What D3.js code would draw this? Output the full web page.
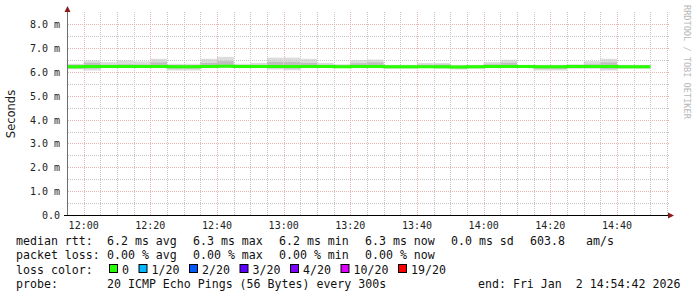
<!DOCTYPE html>
<meta charset="utf-8">
<style>
    body {
        margin: 0;
        overflow: hidden;
        background: #fff;
    }

    text {
        font-family: "DejaVu Sans Mono", monospace;
    }
</style>
<div id="container"></div>
<script src="https://cdn.jsdelivr.net/npm/d3@7"></script>
<script>
    // step start times (300s steps)
    const stepTimes = ["11:55", "12:00", "12:05", "12:10", "12:15", "12:20", "12:25", "12:30", "12:35", "12:40",
        "12:45", "12:50", "12:55", "13:00", "13:05", "13:10", "13:15", "13:20", "13:25", "13:30",
        "13:35", "13:40", "13:45", "13:50", "13:55", "14:00", "14:05", "14:10", "14:15", "14:20",
        "14:25", "14:30", "14:35", "14:40", "14:45"];

    // median rtt in ms
    const medianRtt = [6.22, 6.23, 6.23, 6.23, 6.23, 6.23, 6.22, 6.22, 6.23, 6.24,
        6.23, 6.23, 6.23, 6.23, 6.23, 6.23, 6.22, 6.23, 6.23, 6.22,
        6.22, 6.22, 6.22, 6.21, 6.22, 6.23, 6.23, 6.23, 6.22, 6.22,
        6.23, 6.23, 6.23, 6.22, 6.22];

    // smoke: max, upper inner, lower inner, min (ms)
    const smokeMax = [6.34, 6.48, 6.41, 6.48, 6.44, 6.55, 6.34, 6.34, 6.55, 6.63,
        6.34, 6.38, 6.60, 6.60, 6.55, 6.38, 6.32, 6.49, 6.52, 6.30,
        6.30, 6.37, 6.37, 6.30, 6.30, 6.41, 6.51, 6.30, 6.30, 6.30,
        6.32, 6.45, 6.55, 6.30, 6.30];
    const smokeHi = [6.30, 6.38, 6.30, 6.32, 6.31, 6.40, 6.28, 6.28, 6.38, 6.45,
        6.29, 6.30, 6.42, 6.42, 6.38, 6.30, 6.28, 6.36, 6.40, 6.27,
        6.27, 6.30, 6.31, 6.26, 6.27, 6.32, 6.38, 6.27, 6.27, 6.27,
        6.28, 6.32, 6.40, 6.27, 6.27];
    const smokeLo = [6.14, 6.14, 6.19, 6.19, 6.19, 6.19, 6.14, 6.14, 6.19, 6.20,
        6.19, 6.19, 6.16, 6.14, 6.19, 6.19, 6.19, 6.19, 6.19, 6.17,
        6.17, 6.19, 6.17, 6.14, 6.17, 6.19, 6.19, 6.19, 6.13, 6.13,
        6.17, 6.17, 6.13, 6.17, 6.17];
    const smokeMin = [6.11, 6.06, 6.16, 6.16, 6.16, 6.16, 6.06, 6.06, 6.16, 6.18,
        6.16, 6.16, 6.10, 6.07, 6.16, 6.16, 6.16, 6.16, 6.16, 6.13,
        6.13, 6.16, 6.13, 6.10, 6.13, 6.16, 6.16, 6.16, 6.06, 6.06,
        6.13, 6.13, 6.06, 6.13, 6.13];

    const lossLabels = ["0", "1/20", "2/20", "3/20", "4/20", "10/20", "19/20"];
    const lossColors = ["#26ff00", "#00b8ff", "#0059ff", "#5e00ff", "#7e00ff", "#dd00ff", "#ff0000"];

    const legendRows = [
        ["median rtt:", "6.2 ms avg", "6.3 ms max", "6.2 ms min", "6.3 ms now", "0.0 ms sd", "603.8", "am/s"],
        ["packet loss:", "0.00 % avg", "0.00 % max", "0.00 % min", "0.00 % now"],
        ["loss color:"],
        ["probe:", "20 ICMP Echo Pings (56 Bytes) every 300s", "end: Fri Jan  2 14:54:42 2026"]
    ];

    const width = 697, height = 297;
    const parse = d3.timeParse("%H:%M");
    const times = stepTimes.map(parse);
    const stepMs = 5 * 60 * 1000;

    const x = d3.scaleTime()
        .domain([parse("11:55"), parse("14:55")])
        .range([67, 667]);
    const y = d3.scaleLinear()
        .domain([0, 8.47])
        .range([215, 13]);

    const svg = d3.select("#container").append("svg")
        .attr("width", width)
        .attr("height", height);

    // smoke
    const smoke = svg.append("g");
    times.forEach((t, i) => {
        const x0 = x(t), x1 = x(new Date(+t + stepMs));
        smoke.append("rect")
            .attr("x", x0).attr("width", x1 - x0)
            .attr("y", y(smokeMax[i])).attr("height", y(smokeMin[i]) - y(smokeMax[i]))
            .attr("fill", "#dcdcdc");
        smoke.append("rect")
            .attr("x", x0).attr("width", x1 - x0)
            .attr("y", y(smokeHi[i])).attr("height", y(smokeLo[i]) - y(smokeHi[i]))
            .attr("fill", "#bfbfbf");
    });

    // grid
    const grid = svg.append("g").attr("stroke-dasharray", "1,1").attr("stroke-width", 1);
    const minorY = d3.range(0.5, 8.5, 1);
    const majorY = d3.range(1, 9, 1);
    const minorX = x.ticks(d3.timeMinute.every(5)).filter(t => t.getMinutes() % 20 !== 0 && x(t) > 68);
    const majorX = x.ticks(d3.timeMinute.every(20));
    minorY.forEach(v => {
        grid.append("line")
            .attr("x1", 68).attr("x2", 669)
            .attr("y1", Math.round(y(v)) + 0.5).attr("y2", Math.round(y(v)) + 0.5)
            .attr("stroke", "#c6c6c6");
    });
    minorX.forEach(t => {
        grid.append("line")
            .attr("x1", Math.round(x(t)) + 0.5).attr("x2", Math.round(x(t)) + 0.5)
            .attr("y1", 215).attr("y2", 12)
            .attr("stroke", "#c6c6c6");
    });
    majorY.forEach(v => {
        grid.append("line")
            .attr("x1", 68).attr("x2", 669)
            .attr("y1", Math.round(y(v)) + 0.5).attr("y2", Math.round(y(v)) + 0.5)
            .attr("stroke", "#e9b4b4");
    });
    majorX.forEach(t => {
        grid.append("line")
            .attr("x1", Math.round(x(t)) + 0.5).attr("x2", Math.round(x(t)) + 0.5)
            .attr("y1", 215).attr("y2", 12)
            .attr("stroke", "#e9b4b4");
    });

    // median line
    const medPts = times.map((t, i) => [t, medianRtt[i]]);
    medPts.push([new Date(+times[times.length - 1] + stepMs), medianRtt[medianRtt.length - 1]]);
    svg.append("path")
        .datum(medPts)
        .attr("fill", "none")
        .attr("stroke", lossColors[0])
        .attr("stroke-width", 3)
        .attr("d", d3.line().x(d => x(d[0])).y(d => y(d[1])).curve(d3.curveStepAfter));

    // axes
    svg.append("line")
        .attr("x1", 67.5).attr("x2", 67.5).attr("y1", 216).attr("y2", 10)
        .attr("stroke", "#707070");
    svg.append("line")
        .attr("x1", 64).attr("x2", 669).attr("y1", 215.5).attr("y2", 215.5)
        .attr("stroke", "#000");
    svg.append("path").attr("d", "M64.5,12 L70.5,12 L67.5,6 Z").attr("fill", "#8b1a1a");
    svg.append("path").attr("d", "M668,212.5 L668,218.5 L674,215.5 Z").attr("fill", "#8b1a1a");

    // y tick labels
    const yLabels = svg.append("g").attr("font-size", 10).attr("fill", "#222").attr("text-anchor", "end");
    [0].concat(majorY.filter(v => v <= 8)).forEach(v => {
        yLabels.append("text")
            .attr("x", 60).attr("y", y(v) + 4)
            .text(v === 0 ? "0.0" : d3.format(".1f")(v) + " m");
    });

    // x tick labels
    const xLabels = svg.append("g").attr("font-size", 10).attr("fill", "#222").attr("text-anchor", "middle");
    majorX.forEach(t => {
        xLabels.append("text")
            .attr("x", x(t)).attr("y", 228.5)
            .text(d3.timeFormat("%H:%M")(t));
    });

    // axis title
    svg.append("text")
        .attr("transform", "translate(15,114) rotate(-90)")
        .attr("text-anchor", "middle")
        .style("font-family", "'DejaVu Sans', sans-serif")
        .attr("font-size", 11.5)
        .attr("fill", "#222")
        .text("Seconds");

    // watermark
    svg.append("text")
        .attr("transform", "translate(684,5) rotate(90)")
        .attr("font-size", 8.6)
        .attr("fill", "#b8b8b8")
        .text("RRDTOOL / TOBI OETIKER");

    // legend
    const legX = [16, 107, 193, 279, 365, 451, 530, 586];
    const rowY = [245, 259, 273.5, 287.5];
    const legend = svg.append("g").attr("font-size", 11.6).attr("fill", "#111");
    legendRows.forEach((row, r) => {
        row.forEach((s, c) => {
            let xx = legX[c];
            if (r === 3 && c === 2) xx = 478;
            legend.append("text")
                .attr("x", xx).attr("y", rowY[r])
                .style("white-space", "pre")
                .text(s);
        });
    });

    let bx = 109;
    lossLabels.forEach((lab, i) => {
        legend.append("rect")
            .attr("x", bx + 0.5).attr("y", 264.5)
            .attr("width", 8).attr("height", 8)
            .attr("fill", lossColors[i])
            .attr("stroke", "#000");
        legend.append("text")
            .attr("x", bx + 13).attr("y", rowY[2])
            .text(lab);
        bx += 22.5 + 7 * lab.length;
    });
</script>
